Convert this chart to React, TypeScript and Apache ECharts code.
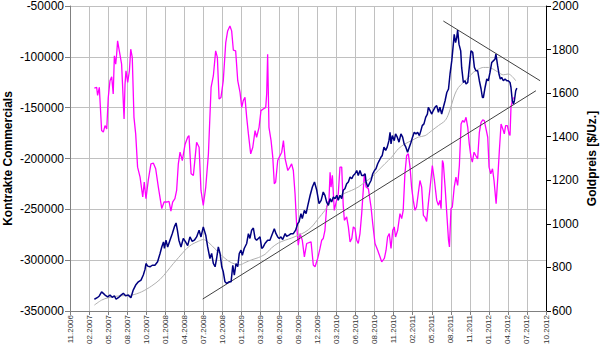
import React, { useEffect, useRef } from "react";
import * as echarts from "echarts";

const xLabels = ["11.2006","02.2007","05.2007","08.2007","10.2007","01.2008","04.2008","07.2008","10.2008","01.2009","03.2009","06.2009","09.2009","12.2009","03.2010","06.2010","08.2010","11.2010","02.2011","05.2011","08.2011","11.2011","01.2012","04.2012","07.2012","10.2012"];

// Kontrakte Commercials (left axis); x = position in label steps
const commX = [1.28,1.40,1.45,1.54,1.66,1.75,1.84,1.93,2.01,2.10,2.19,2.27,2.33,2.40,2.45,2.50,2.59,2.71,2.75,2.84,2.89,2.94,3.03,3.12,3.19,3.27,3.36,3.45,3.55,3.68,3.82,3.90,3.99,4.11,4.25,4.38,4.50,4.64,4.82,4.94,5.08,5.20,5.30,5.39,5.51,5.60,5.69,5.78,5.90,6.04,6.18,6.25,6.36,6.48,6.65,6.78,6.88,7.00,7.13,7.27,7.41,7.53,7.65,7.74,7.83,7.93,8.05,8.18,8.28,8.40,8.49,8.58,8.70,8.81,8.93,9.02,9.10,9.19,9.28,9.37,9.49,9.60,9.72,9.80,9.93,10.03,10.15,10.28,10.33,10.38,10.45,10.56,10.65,10.73,10.80,10.91,10.99,11.12,11.21,11.30,11.44,11.55,11.64,11.73,11.82,11.91,11.99,12.08,12.20,12.31,12.43,12.66,12.78,12.87,13.01,13.13,13.22,13.30,13.39,13.48,13.60,13.66,13.71,13.78,13.88,14.00,14.09,14.18,14.27,14.35,14.41,14.53,14.62,14.71,14.80,14.88,14.97,15.06,15.14,15.23,15.32,15.46,15.55,15.67,15.81,15.90,16.02,16.16,16.28,16.37,16.51,16.60,16.68,16.77,16.86,16.95,17.03,17.10,17.21,17.33,17.42,17.50,17.59,17.68,17.77,17.86,17.94,18.03,18.12,18.20,18.29,18.38,18.47,18.56,18.65,18.73,18.82,18.96,19.03,19.14,19.26,19.35,19.43,19.49,19.56,19.61,19.70,19.79,19.88,19.93,20.01,20.08,20.18,20.27,20.36,20.45,20.54,20.62,20.71,20.80,20.89,20.97,21.06,21.13,21.22,21.31,21.41,21.50,21.59,21.68,21.76,21.85,21.94,22.01,22.10,22.19,22.27,22.38,22.47,22.55,22.64,22.73,22.81,22.88,22.97,23.06,23.11,23.16,23.23,23.29];
const commY = [-130700,-130000,-138000,-130000,-172500,-174000,-167600,-171000,-140000,-123500,-119600,-136600,-99000,-107200,-97400,-84300,-94100,-107200,-123500,-161100,-126800,-113700,-125200,-113700,-92500,-100600,-159500,-175800,-208500,-218300,-237900,-223200,-239500,-221600,-205200,-204600,-210100,-228100,-249300,-242800,-242800,-242200,-251700,-242800,-239500,-231400,-205200,-193800,-202000,-186300,-179100,-177400,-215000,-216600,-184000,-188900,-231400,-246100,-228100,-195400,-130100,-118600,-94100,-100600,-141500,-139900,-123500,-86000,-74500,-69600,-74500,-93500,-94100,-123500,-135000,-149700,-143100,-139900,-159500,-175800,-195400,-188900,-172500,-179100,-169300,-152900,-151300,-149700,-136600,-97400,-169300,-182400,-198700,-224800,-223200,-202000,-198700,-193800,-182400,-200300,-211800,-208500,-205200,-211800,-234600,-267300,-285300,-273800,-280400,-296700,-283600,-282000,-304900,-306500,-298300,-288500,-280400,-278700,-270600,-247700,-241200,-213500,-228100,-216600,-251000,-241200,-234600,-208500,-208500,-246100,-260800,-257500,-267300,-282000,-278700,-267300,-268900,-280400,-283600,-273800,-254200,-215000,-228100,-229700,-247700,-264000,-283600,-290200,-296700,-301600,-298300,-290200,-277200,-273800,-288500,-270600,-267300,-277200,-270600,-254200,-259100,-251000,-215000,-197000,-195400,-208500,-228100,-241200,-251000,-247700,-234600,-221600,-228100,-255900,-258000,-262000,-244400,-219900,-206900,-221600,-241200,-246100,-241200,-249300,-202000,-205200,-228100,-254200,-280400,-287000,-249300,-247700,-228100,-218300,-226500,-206900,-166000,-162700,-164400,-159500,-169300,-185600,-198700,-203600,-193800,-197000,-200300,-174200,-164400,-162100,-162700,-170900,-179100,-208500,-215000,-210100,-221600,-244400,-218300,-192200,-166000,-170900,-175800,-167600,-167600,-175800,-177400,-149700,-143100,-139900];

// Goldpreis (right axis)
const goldX = [1.28,1.43,1.54,1.66,1.75,1.84,1.98,2.10,2.22,2.33,2.42,2.54,2.68,2.80,2.92,3.06,3.20,3.32,3.45,3.59,3.73,3.85,3.94,3.99,4.08,4.20,4.32,4.46,4.60,4.73,4.82,4.91,4.96,5.04,5.13,5.25,5.37,5.48,5.57,5.64,5.72,5.83,5.95,6.07,6.18,6.30,6.42,6.53,6.65,6.78,6.88,7.00,7.13,7.23,7.35,7.44,7.53,7.62,7.70,7.79,7.88,7.97,8.05,8.14,8.23,8.35,8.46,8.55,8.63,8.72,8.81,8.89,8.98,9.05,9.15,9.28,9.37,9.45,9.54,9.63,9.72,9.80,9.89,9.98,10.07,10.15,10.24,10.38,10.50,10.63,10.73,10.82,10.91,10.99,11.08,11.17,11.30,11.38,11.50,11.61,11.73,11.85,11.96,12.03,12.13,12.20,12.31,12.40,12.48,12.61,12.73,12.84,12.96,13.08,13.19,13.30,13.39,13.48,13.57,13.66,13.74,13.83,13.92,14.01,14.09,14.18,14.27,14.35,14.44,14.53,14.62,14.71,14.80,14.88,14.97,15.06,15.14,15.23,15.32,15.41,15.50,15.55,15.64,15.72,15.81,15.90,15.99,16.07,16.16,16.25,16.33,16.40,16.49,16.58,16.66,16.75,16.81,16.86,16.93,17.03,17.10,17.19,17.28,17.38,17.47,17.55,17.64,17.73,17.82,17.91,17.99,18.08,18.17,18.26,18.35,18.43,18.50,18.59,18.68,18.77,18.82,18.91,19.00,19.08,19.17,19.26,19.35,19.43,19.52,19.61,19.70,19.79,19.88,19.96,20.05,20.10,20.18,20.25,20.31,20.36,20.43,20.52,20.57,20.66,20.75,20.80,20.89,20.97,21.06,21.15,21.24,21.32,21.41,21.50,21.59,21.66,21.71,21.80,21.89,21.97,22.06,22.15,22.23,22.32,22.37,22.46,22.53,22.60,22.67,22.76,22.85,22.94,23.02,23.11,23.16,23.23,23.29,23.34,23.41,23.47];
const goldY = [654,661,669,688,681,673,665,673,663,669,654,661,673,681,670,673,661,696,719,734,742,765,791,818,806,803,810,810,826,864,894,917,887,925,894,925,955,986,1004,971,925,894,933,917,900,940,920,925,940,971,940,986,948,894,841,864,818,803,841,894,864,803,780,734,727,734,734,810,765,818,803,864,879,856,887,910,955,933,971,981,933,925,933,940,887,894,910,925,925,955,978,955,940,933,940,928,955,943,948,955,955,971,1001,1009,1047,1024,1062,1047,1080,1130,1169,1192,1154,1093,1108,1146,1131,1100,1085,1116,1100,1123,1116,1131,1108,1131,1116,1154,1161,1184,1192,1215,1207,1222,1230,1245,1222,1245,1222,1222,1230,1192,1169,1184,1199,1230,1245,1253,1276,1291,1306,1314,1352,1337,1352,1382,1420,1367,1405,1382,1413,1398,1375,1413,1398,1367,1352,1329,1352,1375,1398,1420,1413,1420,1405,1428,1451,1459,1489,1504,1535,1520,1504,1520,1535,1543,1512,1535,1504,1535,1565,1603,1619,1688,1748,1794,1870,1832,1855,1889,1825,1794,1718,1649,1657,1642,1649,1718,1794,1787,1718,1703,1703,1657,1619,1580,1580,1626,1665,1657,1695,1741,1748,1756,1779,1726,1688,1665,1672,1657,1665,1657,1657,1649,1626,1565,1550,1565,1611,1623];

// Moving average of gold (right axis)
const maX = [1.28,1.66,2.01,2.54,3.24,3.76,4.29,4.73,5.08,5.43,5.95,6.13,6.39,6.74,7.00,7.27,7.62,7.97,8.31,8.67,8.93,9.19,9.54,9.89,10.24,10.59,10.94,11.30,11.64,11.99,12.34,12.69,13.04,13.39,13.74,14.09,14.44,14.80,15.14,15.50,15.85,16.19,16.54,16.89,17.24,17.59,17.94,18.29,18.65,19.00,19.35,19.70,19.88,20.05,20.22,20.40,20.66,20.92,21.18,21.45,21.71,21.97,22.23,22.50,22.76,23.02,23.23,23.41];
const maY = [627,650,661,669,673,688,715,745,780,818,870,887,905,920,928,915,885,855,830,815,812,822,835,845,860,890,912,925,935,948,962,986,1024,1062,1108,1123,1141,1154,1169,1192,1215,1245,1276,1306,1344,1367,1382,1398,1405,1428,1451,1474,1504,1550,1596,1626,1649,1672,1695,1710,1718,1718,1710,1695,1684,1688,1676,1657];

// Trend lines (right axis)
const supportX = [6.97, 24.47];
const supportY = [655, 1611];
const resistX = [19.61, 24.69];
const resistY = [1931, 1657];

const zip = (xs: number[], ys: number[]) => xs.map((x, i) => [x, ys[i]]);

const FONT = "'Liberation Sans', Arial, sans-serif";

export default function App() {
  const ref = useRef<HTMLDivElement>(null);
  useEffect(() => {
    document.body.style.margin = "0";
    const chart = echarts.init(ref.current!, null, { renderer: "svg" });
    chart.setOption({
      animation: false,
      textStyle: { fontFamily: FONT },
      grid: { left: 70, right: 54, top: 6, bottom: 34, containLabel: false, outerBoundsMode: "none" },
      xAxis: {
        type: "value",
        min: 0,
        max: 25,
        interval: 1,
        axisLine: { show: true, onZero: false, lineStyle: { color: "#808080" } },
        axisTick: { show: true, length: 4, lineStyle: { color: "#808080" } },
        splitLine: { show: true, lineStyle: { color: "#c0c0c0", width: 1 } },
        axisLabel: {
          rotate: 90,
          fontSize: 8,
          color: "#333",
          margin: 4,
          fontFamily: FONT,
          formatter: (v: number) => xLabels[Math.round(v)] ?? "",
        },
      },
      yAxis: [
        {
          type: "value",
          min: -350000,
          max: -50000,
          interval: 50000,
          position: "left",
          name: "Kontrakte Commercials",
          nameLocation: "middle",
          nameGap: 56,
          nameMoveOverlap: false,
          nameTextStyle: { fontWeight: "bold", fontSize: 12, color: "#000", fontFamily: FONT },
          axisLine: { show: true, lineStyle: { color: "#808080" } },
          axisTick: { show: true, length: 5, lineStyle: { color: "#808080" } },
          splitLine: { show: true, lineStyle: { color: "#c0c0c0", width: 1 } },
          axisLabel: { fontSize: 12, color: "#000", margin: 6, fontFamily: FONT, formatter: (v: number) => String(v) },
        },
        {
          type: "value",
          min: 600,
          max: 2000,
          interval: 200,
          position: "right",
          alignTicks: false,
          name: "Goldpreis [$/Uz.]",
          nameLocation: "middle",
          nameGap: 40,
          nameMoveOverlap: false,
          nameTextStyle: { fontWeight: "bold", fontSize: 12, color: "#000", fontFamily: FONT },
          axisLine: { show: true, lineStyle: { color: "#000" } },
          axisTick: { show: true, length: 5, lineStyle: { color: "#000" } },
          splitLine: { show: false },
          axisLabel: { fontSize: 12, color: "#000", margin: 6, fontFamily: FONT, formatter: (v: number) => String(v) },
        },
      ],
      series: [
        {
          type: "line",
          yAxisIndex: 0,
          data: zip(commX, commY),
          symbol: "none",
          lineStyle: { color: "#ff00ff", width: 1.3 },
        },
        {
          type: "line",
          yAxisIndex: 1,
          data: zip(maX, maY),
          symbol: "none",
          smooth: 0.3,
          lineStyle: { color: "#b0b0b0", width: 1 },
        },
        {
          type: "line",
          yAxisIndex: 1,
          data: zip(supportX, supportY),
          symbol: "none",
          lineStyle: { color: "#404040", width: 1 },
        },
        {
          type: "line",
          yAxisIndex: 1,
          data: zip(resistX, resistY),
          symbol: "none",
          lineStyle: { color: "#404040", width: 1 },
        },
        {
          type: "line",
          yAxisIndex: 1,
          data: zip(goldX, goldY),
          symbol: "none",
          lineStyle: { color: "#000080", width: 1.5 },
        },
      ],
    });
    return () => chart.dispose();
  }, []);
  return <div ref={ref} style={{ width: 600, height: 345, position: "absolute", left: 0, top: 0 }} />;
}
